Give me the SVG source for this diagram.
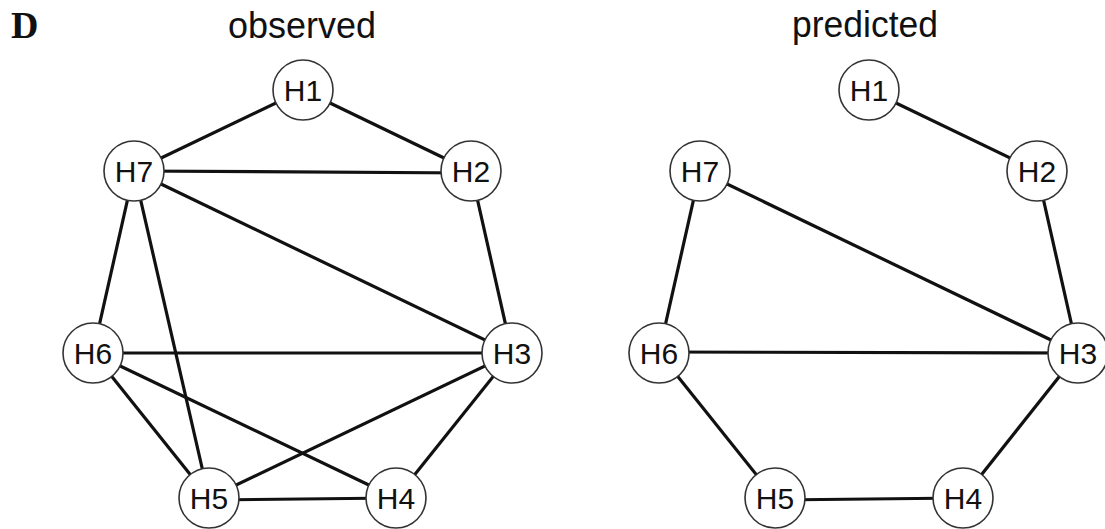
<svg xmlns="http://www.w3.org/2000/svg" width="1105" height="529" viewBox="0 0 1105 529">
  <style>
    .edge { stroke: #111; stroke-width: 3.2; fill: none; }
    .node circle { fill: #fff; stroke: #333; stroke-width: 1.6; }
    .node text { font-family: "Liberation Sans", Arial, sans-serif; font-size: 30px; fill: #111; text-anchor: middle; }
    .title { font-family: "Liberation Sans", Arial, sans-serif; font-size: 36px; fill: #111; text-anchor: middle; }
    .panel { font-family: "Liberation Serif", "Times New Roman", serif; font-size: 38px; font-weight: bold; fill: #111; }
  </style>

  <text class="panel" x="11" y="38">D</text>
  <text class="title" x="302" y="38" textLength="148" lengthAdjust="spacingAndGlyphs">observed</text>
  <text class="title" x="865" y="37" textLength="146" lengthAdjust="spacingAndGlyphs">predicted</text>

  <!-- connectors: observed network -->
  <g id="edges-observed">
    <line class="edge" x1="303" y1="90" x2="134" y2="171"/>
    <line class="edge" x1="303" y1="90" x2="471" y2="171"/>
    <line class="edge" x1="134" y1="171" x2="471" y2="173"/>
    <line class="edge" x1="134" y1="171" x2="512" y2="353"/>
    <line class="edge" x1="134" y1="171" x2="93" y2="353"/>
    <line class="edge" x1="134" y1="171" x2="209" y2="498"/>
    <line class="edge" x1="471" y1="171" x2="512" y2="353"/>
    <line class="edge" x1="93" y1="353" x2="512" y2="353"/>
    <line class="edge" x1="93" y1="353" x2="209" y2="498"/>
    <line class="edge" x1="93" y1="353" x2="396" y2="498"/>
    <line class="edge" x1="512" y1="353" x2="209" y2="498"/>
    <line class="edge" x1="512" y1="353" x2="396" y2="498"/>
    <line class="edge" x1="209" y1="500" x2="396" y2="498"/>
  </g>

  <!-- connectors: predicted network -->
  <g id="edges-predicted">
    <line class="edge" x1="869" y1="90" x2="1037" y2="171"/>
    <line class="edge" x1="700" y1="171" x2="659" y2="353"/>
    <line class="edge" x1="700" y1="171" x2="1078" y2="353"/>
    <line class="edge" x1="1037" y1="171" x2="1078" y2="353"/>
    <line class="edge" x1="659" y1="352" x2="1078" y2="353"/>
    <line class="edge" x1="659" y1="353" x2="775" y2="498"/>
    <line class="edge" x1="775" y1="500" x2="963" y2="498"/>
    <line class="edge" x1="963" y1="498" x2="1078" y2="353"/>
  </g>

  <!-- observed nodes -->
  <g id="obs-H1" class="node"><circle cx="303" cy="90" r="30"/><text x="303" y="101">H1</text></g>
  <g id="obs-H2" class="node"><circle cx="471" cy="171" r="30"/><text x="471" y="182">H2</text></g>
  <g id="obs-H3" class="node"><circle cx="512" cy="353" r="30"/><text x="512" y="364">H3</text></g>
  <g id="obs-H4" class="node"><circle cx="396" cy="498" r="30"/><text x="396" y="509">H4</text></g>
  <g id="obs-H5" class="node"><circle cx="209" cy="498" r="30"/><text x="209" y="509">H5</text></g>
  <g id="obs-H6" class="node"><circle cx="93" cy="353" r="30"/><text x="93" y="364">H6</text></g>
  <g id="obs-H7" class="node"><circle cx="134" cy="171" r="30"/><text x="134" y="182">H7</text></g>

  <!-- predicted nodes -->
  <g id="pred-H1" class="node"><circle cx="869" cy="90" r="30"/><text x="869" y="101">H1</text></g>
  <g id="pred-H2" class="node"><circle cx="1037" cy="171" r="30"/><text x="1037" y="182">H2</text></g>
  <g id="pred-H3" class="node"><circle cx="1078" cy="353" r="30"/><text x="1078" y="364">H3</text></g>
  <g id="pred-H4" class="node"><circle cx="963" cy="498" r="30"/><text x="963" y="509">H4</text></g>
  <g id="pred-H5" class="node"><circle cx="775" cy="498" r="30"/><text x="775" y="509">H5</text></g>
  <g id="pred-H6" class="node"><circle cx="659" cy="353" r="30"/><text x="659" y="364">H6</text></g>
  <g id="pred-H7" class="node"><circle cx="700" cy="171" r="30"/><text x="700" y="182">H7</text></g>
</svg>
